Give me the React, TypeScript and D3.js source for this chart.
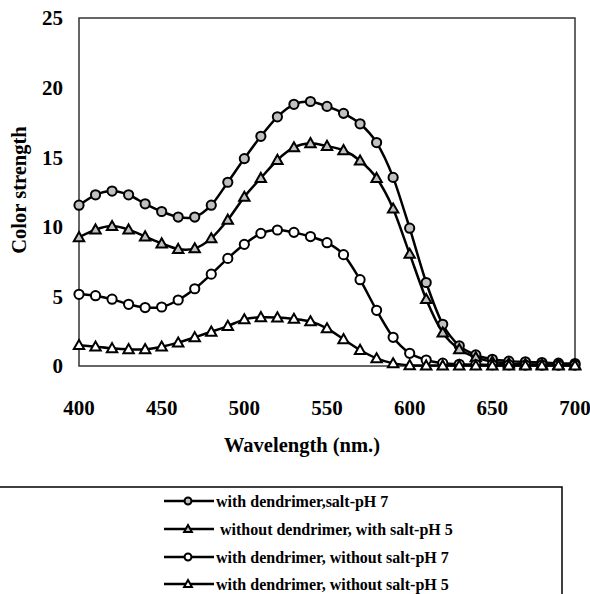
import React from "react";
import * as d3 from "d3";

const wavelengths = [400,410,420,430,440,450,460,470,480,490,500,510,520,530,540,550,560,570,580,590,600,610,620,630,640,650,660,670,680,690,700];
const s1 = [11.55,12.3,12.57,12.3,11.65,11.1,10.7,10.7,11.55,13.2,14.9,16.5,17.9,18.8,19.0,18.65,18.15,17.4,16.05,13.55,9.9,6.0,3.0,1.45,0.8,0.48,0.35,0.3,0.25,0.2,0.18];
const s2 = [9.25,9.8,10.05,9.8,9.3,8.8,8.4,8.45,9.17,10.5,12.15,13.5,14.8,15.7,16.0,15.8,15.5,14.75,13.5,11.3,8.05,4.8,2.4,1.2,0.62,0.3,0.18,0.12,0.1,0.08,0.08];
const s3 = [5.15,5.05,4.8,4.43,4.2,4.24,4.74,5.55,6.6,7.73,8.74,9.53,9.77,9.6,9.3,8.86,8.0,6.2,4.0,2.06,0.91,0.43,0.2,0.12,0.1,0.08,0.08,0.07,0.07,0.07,0.07];
const s4 = [1.5,1.39,1.27,1.2,1.2,1.39,1.68,2.06,2.46,2.87,3.35,3.5,3.48,3.38,3.2,2.7,1.92,1.15,0.55,0.19,0.05,0.03,0.03,0.03,0.03,0.03,0.03,0.03,0.03,0.03,0.03];
const seriesNames = [
  "with dendrimer,salt-pH 7",
  " without dendrimer, with salt-pH 5",
  "with dendrimer, without salt-pH 7",
  "with dendrimer, without salt-pH 5",
];
const seriesMarkers = ["circle", "triangle", "circle", "triangle"];
const seriesFills = ["#c0c0c0", "#c0c0c0", "#ffffff", "#ffffff"];
const yTicks = [0, 5, 10, 15, 20, 25];
const xTicks = [400, 450, 500, 550, 600, 650, 700];

const FONT = "'Liberation Serif', 'Times New Roman', serif";

function Marker({ type, x, y, fill, s = 1 }: { type: string; x: number; y: number; fill: string; s?: number }) {
  if (type === "circle") {
    return <circle cx={x} cy={y} r={4.6 * s} fill={fill} stroke="#000" strokeWidth={2} />;
  }
  const k = 5.2 * s;
  const p = `M${x},${y - k} L${x + k},${y + k * 0.75} L${x - k},${y + k * 0.75} Z`;
  return <path d={p} fill={fill} stroke="#000" strokeWidth={2} strokeLinejoin="miter" />;
}

export default function App() {
  const W = 590, H = 594;
  const left = 79, right = 575, top = 18, bottom = 366;
  const x = d3.scaleLinear().domain([400, 700]).range([left, right]);
  const y = d3.scaleLinear().domain([0, 25]).range([bottom, top]);
  const data = [s1, s2, s3, s4];
  const line = d3
    .line<number>()
    .x((_, i) => x(wavelengths[i]))
    .y((d) => y(d))
    .curve(d3.curveCardinal.tension(0.2));

  const legendY = [501, 529, 557, 584];

  return (
    <svg
      width={W}
      height={H}
      style={{ position: "absolute", left: 0, top: 0, background: "#fff" }}
      fontFamily={FONT}
    >
      <rect x={0} y={0} width={W} height={H} fill="#fff" />
      {/* plot frame */}
      <rect x={left} y={top} width={right - left} height={bottom - top} fill="none" stroke="#333" strokeWidth={1.5} />
      {/* y tick labels */}
      {yTicks.map((t) => (
        <text key={"y" + t} x={63} y={y(t)} dy="0.35em" textAnchor="end" fontSize={21} fontWeight="bold">
          {t}
        </text>
      ))}
      {/* x tick labels */}
      {xTicks.map((t) => (
        <text key={"x" + t} x={x(t)} y={415} textAnchor="middle" fontSize={21} fontWeight="bold">
          {t}
        </text>
      ))}
      <text x={302} y={452} textAnchor="middle" fontSize={20.5} fontWeight="bold">
        Wavelength (nm.)
      </text>
      <text
        transform={`translate(26,190) rotate(-90)`}
        textAnchor="middle"
        fontSize={20.5}
        fontWeight="bold"
      >
        Color strength
      </text>
      {/* series */}
      {data.map((d, si) => (
        <g key={"s" + si}>
          <path d={line(d) || ""} fill="none" stroke="#000" strokeWidth={2.5} />
          {d.map((v, i) => (
            <Marker key={i} type={seriesMarkers[si]} x={x(wavelengths[i])} y={y(v)} fill={seriesFills[si]} />
          ))}
        </g>
      ))}
      {/* legend box */}
      <rect x={-10} y={487} width={572} height={200} fill="none" stroke="#000" strokeWidth={1.5} />
      {seriesNames.map((n, i) => (
        <g key={"l" + i}>
          <line x1={164} x2={214} y1={legendY[i]} y2={legendY[i]} stroke="#000" strokeWidth={2.5} />
          <Marker type={seriesMarkers[i]} x={188} y={legendY[i]} fill={seriesFills[i]} s={0.75} />
          <text x={216} y={legendY[i]} dy="0.35em" fontSize={16} fontWeight="bold" style={{ whiteSpace: "pre" }}>
            {n}
          </text>
        </g>
      ))}
    </svg>
  );
}
